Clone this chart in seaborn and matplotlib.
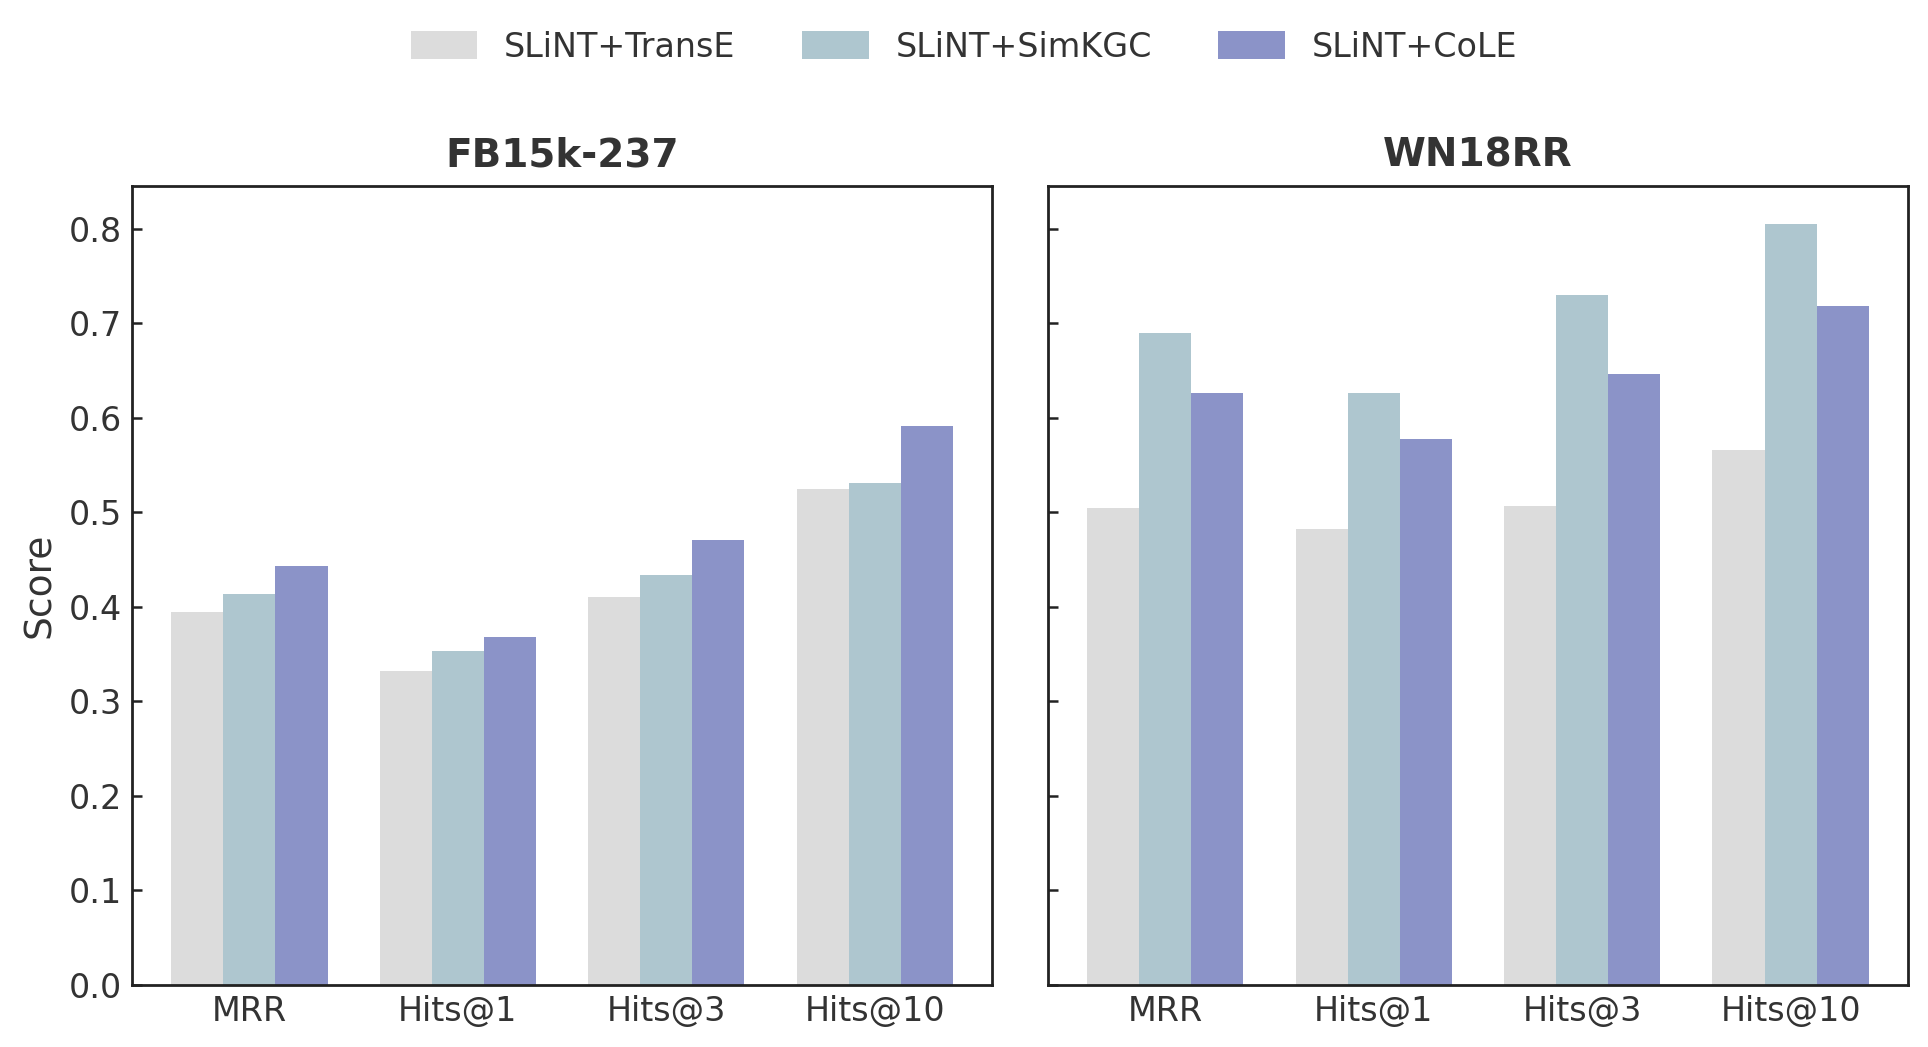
import numpy as np
import pandas as pd
import matplotlib
matplotlib.use("Agg")
import matplotlib.pyplot as plt
import seaborn as sns

metrics = ["MRR", "Hits@1", "Hits@3", "Hits@10"]
methods = ["SLiNT+TransE", "SLiNT+SimKGC", "SLiNT+CoLE"]
datasets = ["FB15k-237", "WN18RR"]

fb_transe = [0.395, 0.332, 0.410, 0.525]
fb_simkgc = [0.414, 0.353, 0.434, 0.531]
fb_cole = [0.443, 0.368, 0.471, 0.591]

wn_transe = [0.505, 0.482, 0.507, 0.566]
wn_simkgc = [0.690, 0.626, 0.730, 0.805]
wn_cole = [0.626, 0.577, 0.646, 0.718]

colors = ["#DCDCDC", "#AEC6CF", "#8B93C8"]

rows = []
for ds, vals in zip(datasets, [[fb_transe, fb_simkgc, fb_cole], [wn_transe, wn_simkgc, wn_cole]]):
    for m, series in zip(methods, vals):
        for met, v in zip(metrics, series):
            rows.append({"Dataset": ds, "Method": m, "Metric": met, "Score": v})
df = pd.DataFrame(rows)

sns.set_theme(style="white")
plt.rcParams["font.family"] = ["DejaVu Sans"]
text_color = "#333333"
plt.rcParams["text.color"] = text_color
plt.rcParams["axes.labelcolor"] = text_color
plt.rcParams["xtick.color"] = text_color
plt.rcParams["ytick.color"] = text_color

fig, axes = plt.subplots(1, 2, figsize=(9.64, 5.235), dpi=200, sharey=True)
fig.subplots_adjust(left=0.0685, right=0.9896, bottom=0.0592, top=0.8223, wspace=0.065)

for ax, ds in zip(axes, datasets):
    sns.barplot(data=df[df["Dataset"] == ds], x="Metric", y="Score", hue="Method",
                order=metrics, hue_order=methods, palette=colors, width=0.75,
                saturation=1, linewidth=0, ax=ax, legend=(ds == datasets[0]))
    ax.set_title(ds, fontsize=14, fontweight="bold", color=text_color, pad=7)
    ax.set_xlabel("")
    ax.set_xlim(-0.5625, 3.5625)
    ax.set_ylim(0, 0.845)
    ax.tick_params(axis="both", direction="in", length=3.5, width=0.9, labelsize=12,
                   color="#222222", bottom=True, left=True)
    for sp in ax.spines.values():
        sp.set_visible(True)
        sp.set_color("#222222")
        sp.set_linewidth(1.0)

axes[0].set_ylabel("Score", fontsize=13.5)
axes[1].set_ylabel("")
axes[0].set_yticks(np.arange(0, 0.81, 0.1))
axes[0].set_yticklabels([f"{t:.1f}" for t in np.arange(0, 0.81, 0.1)])

handles, labels = axes[0].get_legend_handles_labels()
axes[0].get_legend().remove()
fig.legend(handles, labels, loc="center", bbox_to_anchor=(0.5, 0.955), ncol=3,
           frameon=False, fontsize=12, handlelength=2.0, handleheight=0.9,
           columnspacing=2.0, handletextpad=0.8)

fig.savefig("out.png", dpi=200)
